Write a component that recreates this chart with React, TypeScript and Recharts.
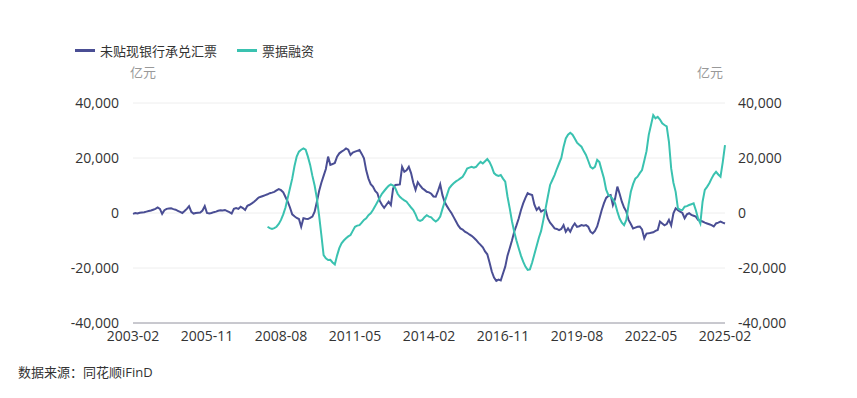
import { LineChart, Line, XAxis, YAxis, CartesianGrid } from 'recharts';

// monthly, 2003-02 .. 2025-02
const startYear = 2003;
const startMonth = 2;
const months: string[] = [];
for (let i = 0; i <= 264; i++) {
  const m = startMonth - 1 + i;
  const y = startYear + Math.floor(m / 12);
  months.push(`${y}-${String((m % 12) + 1).padStart(2, '0')}`);
}

// 未贴现银行承兑汇票 (亿元), 2003-02 onward
const undiscounted: number[] = [
  -300, 0, -200, 100, 200, 300, 500, 700, 900, 1200, 1500, 2000, 1500, -300, 1000, 1500, 1600, 1700, 1400, 1200,
  800, 400, 0, 700, 1500, 2500, 400, -200, 0, 100, 200, 900, 2500, 0, -200, 0, 300, 500, 800, 1000,
  900, 1100, 700, 300, -200, 1500, 1800, 1500, 2300, 1800, 1100, 2600, 3000, 3500, 4100, 4800, 5600, 5900, 6200, 6500,
  6800, 7200, 7400, 7700, 8200, 8700, 8300, 7500, 5800, 4100, 2000, -500, -1200, -1800, -2200, -5000, -1900, -2100, -2200, -1800,
  -1300, 500, 4100, 8000, 11000, 13500, 16000, 20500, 17500, 17800, 18200, 20500, 21700, 22300, 22800, 23500, 23000, 21100, 22000, 22300,
  22600, 22900, 21500, 19900, 15500, 12500, 10500, 9600, 8000, 7200, 4500, 3000, 1900, 3000, 4100, 2900, 9000, 10200, 10300, 10400,
  16800, 15000, 15500, 16800, 14500, 11000, 8400, 11200, 10000, 9000, 8400, 7700, 7500, 7000, 6000, 5900, 8000, 10400, 6500, 4000,
  2500, 1200, 0, -1500, -3000, -4500, -5600, -6000, -6800, -7200, -7800, -8300, -9000, -9800, -10800, -11600, -12500, -14000, -15000, -18000,
  -21300, -23500, -24700, -24200, -24500, -22000, -19500, -15500, -12800, -10000, -6800, -4500, -2000, 1000, 3500, 5500, 7200, 6800, 6500, 3000,
  1100, 2000, 500, 1000, 1100, -2000, -3500, -4500, -5600, -5800, -6200, -5800, -4400, -6800, -5600, -6800, -5000, -3800, -5000, -4800,
  -4400, -4600, -4400, -5000, -6800, -7400, -6500, -4900, -2000, 1000, 3500, 5500, 6200, 6500, 2900, 5300, 9600, 7000, 4100, 2000,
  500, -2500, -4000, -5600, -5300, -5000, -4900, -6000, -9200, -7500, -7400, -7200, -7000, -6500, -6200, -3100, -3800, -4500, -4000, -2500,
  -4500, -100, 1700, 1000, 500, 0, -1900, -500, -100, -700, -1000, -1300, -2500, -2800, -3100, -3500, -3800, -4100, -4400, -4900,
  -3800, -3500, -3100, -3500, -3800,
];

// 票据融资 (亿元), starts 2008-02
const billFinancingStart = 60;
const billFinancing: number[] = [
  -5000, -5500, -5800, -5500, -5000, -4000, -2500, -500, 2000, 5500, 9000, 12500, 17000, 20500, 22300, 23000, 23500, 23000, 20500, 17500,
  13500, 10000, 5300, -1000, -8000, -15300, -16500, -17100, -17000, -18000, -18700, -15500, -12800, -11000, -10000, -9200, -8500, -8000, -6500, -5000,
  -4600, -4400, -3500, -2500, -1900, -800, -100, 1100, 2500, 4000, 5500, 7000, 8000, 9000, 9900, 10400, 10000, 9000, 7000, 5900,
  5200, 4600, 4100, 3000, 2000, 1100, -500, -2500, -2900, -2500, -1500, -800, -1300, -1600, -2500, -3100, -2500, -1300, 1500, 4100,
  6500, 9000, 10000, 10800, 11500, 12000, 12600, 13200, 14500, 16200, 16500, 16800, 16500, 16800, 17800, 18600, 18000, 18800, 19600, 18500,
  16800, 14500, 13800, 13500, 13800, 12500, 11400, 6000, 1700, -3000, -6800, -10000, -12800, -15500, -17700, -19500, -20700, -20500, -18000, -15000,
  -12000, -9000, -6500, -2500, 1700, 6000, 10200, 12000, 13800, 16000, 18000, 20000, 24000, 27100, 28500, 29200, 28500, 27100, 25600, 24800,
  24100, 22500, 21100, 19000, 16800, 16200, 16800, 19300, 18500, 15500, 12600, 8500, 6500, 6000, 5000, 3500, 500, -2000, -3500, -4400,
  -2500, 3000, 7700, 10500, 12500, 13200, 14500, 15600, 19000, 22500, 28400, 32000, 35600, 34400, 35000, 34000, 32600, 32000, 31500, 25900,
  16200, 11000, 7700, 1700, 1200, 1100, 2300, 2500, 2900, 3200, 3500, 1000, -2000, -3800, 4100, 8400, 9500, 10800, 12500, 14000,
  15000, 14000, 13200, 18500, 24700,
];

const yTicks = [-40000, -20000, 0, 20000, 40000];

const seriesNames = ['未贴现银行承兑汇票', '票据融资'];
const colors = ['#4a4e94', '#3ac2b0'];

const data = months.map((month, i) => ({
  month,
  a: undiscounted[i],
  b: i >= billFinancingStart ? billFinancing[i - billFinancingStart] : null,
}));

const font = '"Open Sans", "Noto Sans CJK SC", sans-serif';
const fmt = (v: number) => v.toLocaleString('en-US');
const tickStyle = { fill: '#333', fontSize: 14 };

export default function App() {
  return (
    <div style={{ position: 'relative', width: 841, height: 382, fontFamily: font }}>
      <LineChart width={841} height={350} data={data} margin={{ top: 95, right: 0, bottom: 5, left: 0 }}>
        <CartesianGrid yAxisId="left" vertical={false} stroke="#eeeeee" />
        <XAxis
          dataKey="month"
          interval={32}
          tickLine={false}
          axisLine={{ stroke: '#9a9aa6' }}
          tick={tickStyle}
          height={30}
          tickMargin={2}
        />
        <YAxis
          yAxisId="left"
          width={125}
          domain={[-40000, 40000]}
          ticks={yTicks}
          tickFormatter={fmt}
          axisLine={false}
          tickLine={false}
          tickMargin={8}
          tick={tickStyle}
        />
        <YAxis
          yAxisId="right"
          orientation="right"
          width={124}
          domain={[-40000, 40000]}
          ticks={yTicks}
          tickFormatter={fmt}
          axisLine={false}
          tickLine={false}
          tickMargin={7}
          tick={tickStyle}
        />
        <Line
          yAxisId="left"
          type="linear"
          dataKey="a"
          name={seriesNames[0]}
          stroke={colors[0]}
          strokeWidth={2}
          dot={false}
          isAnimationActive={false}
        />
        <Line
          yAxisId="right"
          type="linear"
          dataKey="b"
          name={seriesNames[1]}
          stroke={colors[1]}
          strokeWidth={2}
          dot={false}
          isAnimationActive={false}
        />
      </LineChart>
      <div
        style={{
          position: 'absolute',
          left: 67,
          top: 33,
          display: 'flex',
          alignItems: 'center',
          fontSize: 13,
          color: '#333',
        }}
      >
        {seriesNames.map((n, i) => (
          <div key={n} style={{ display: 'flex', alignItems: 'center', marginRight: 20 }}>
            <span style={{ display: 'inline-block', width: 20, height: 3, background: colors[i], marginRight: 5 }} />
            <span>{n}</span>
          </div>
        ))}
      </div>
      <div style={{ position: 'absolute', left: 122, top: 54, fontSize: 13, color: '#999' }}>亿元</div>
      <div style={{ position: 'absolute', left: 689, top: 54, fontSize: 13, color: '#999' }}>亿元</div>
      <div style={{ position: 'absolute', left: 10, top: 354, fontSize: 13, color: '#333' }}>数据来源：同花顺iFinD</div>
    </div>
  );
}
